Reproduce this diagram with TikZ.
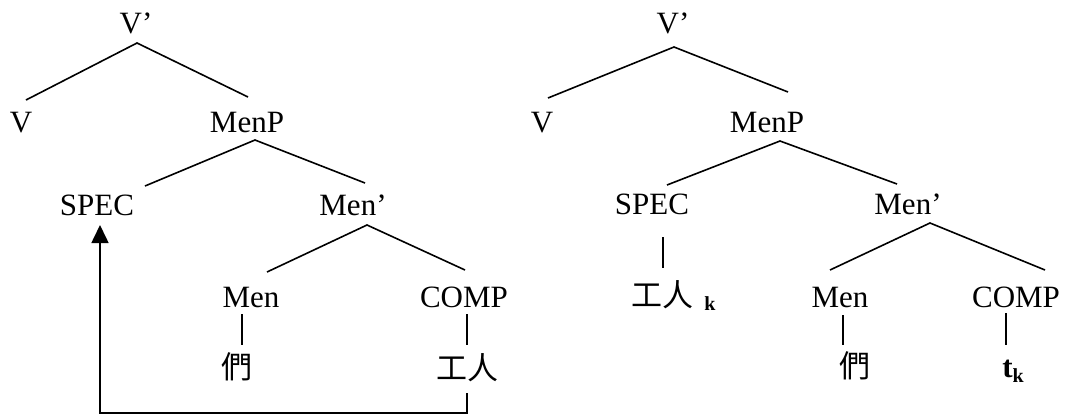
\documentclass[tikz,border=0pt]{standalone}
\usepackage{fontspec}
\setmainfont{Liberation Serif}
\newfontfamily\cjk{Noto Sans CJK TC}
\usetikzlibrary{calc,arrows.meta}
\begin{document}
\begin{tikzpicture}[x=1pt,y=-1pt,
  lab/.style={anchor=base,inner sep=0pt,font=\fontsize{31}{37}\selectfont},
  han/.style={anchor=center,inner sep=0pt,font=\fontsize{31}{37}\selectfont\cjk},
  idx/.style={anchor=base,inner sep=0pt,font=\fontsize{20}{24}\selectfont\bfseries},
  branch/.style={line width=1.6pt},
  move/.style={line width=1.6pt,-{Triangle[length=18pt,width=17pt]}}]
\fill[white] (0,0) rectangle (1065,416);
\useasboundingbox (0,0) rectangle (1065,416);

% ---------- left tree: before movement ----------
\node[lab] (lvp)   at (136,33)  {V’};
\node[lab] (lv)    at (21,132)  {V};
\node[lab] (lmenp) at (247,132) {MenP};
\node[lab] (lspec) at (97,215)  {SPEC};
\node[lab] (lmenb) at (353,215) {Men’};
\node[lab] (lmen)  at (251,307) {Men};
\node[lab] (lcomp) at (464,307) {COMP};
\node[han] (lmenw) at (237,367) {們};
\node[han] (lgr)   at (467,368) {工人};

\draw[branch] ($(lv.base)+(5,-32)$) -- ($(lvp.base)+(1,10)$) -- ($(lmenp.base)+(1,-35)$);
\draw[branch] ($(lspec.base)+(48,-29)$) -- ($(lmenp.base)+(8,8)$) -- ($(lmenb.base)+(12,-32)$);
\draw[branch] ($(lmen.base)+(16,-35)$) -- ($(lmenb.base)+(14,10)$) -- ($(lcomp.base)+(1,-37)$);
\draw[branch] ($(lmen.base)+(-9,7)$) -- ($(lmenw.center)+(5,-22)$);
\draw[branch] ($(lcomp.base)+(3,7)$) -- ($(lgr.center)+(0,-23)$);
\draw[move] ($(lgr.center)+(0,25)$) -- ($(lgr.center)+(0,45)$) -| ($(lspec.base)+(3,10)$);

% ---------- right tree: after movement ----------
\node[lab] (rvp)   at (673,33)  {V’};
\node[lab] (rv)    at (542,132) {V};
\node[lab] (rmenp) at (767,132) {MenP};
\node[lab] (rspec) at (652,214) {SPEC};
\node[lab] (rmenb) at (908,214) {Men’};
\node[lab] (rmen)  at (840,307) {Men};
\node[lab] (rcomp) at (1016,307){COMP};
\node[han] (rgr)   at (662,295) {工人};
\node[idx] (rk)    at (710,310) {k};
\node[han] (rmenw) at (855,366) {們};
\node[lab,font=\fontsize{31}{37}\selectfont\bfseries] (rt) at (1013,377) {t\raisebox{-5pt}{\fontsize{20}{24}\selectfont k}};

\draw[branch] ($(rv.base)+(6,-34)$) -- ($(rvp.base)+(1,14)$) -- ($(rmenp.base)+(21,-40)$);
\draw[branch] ($(rspec.base)+(15,-29)$) -- ($(rmenp.base)+(13,9)$) -- ($(rmenb.base)+(-11,-30)$);
\draw[branch] ($(rmen.base)+(-10,-37)$) -- ($(rmenb.base)+(22,9)$) -- ($(rcomp.base)+(29,-37)$);
\draw[branch] ($(rspec.base)+(11,23)$) -- ($(rgr.center)+(1,-27)$);
\draw[branch] ($(rmen.base)+(3,8)$) -- ($(rmenw.center)+(-12,-21)$);
\draw[branch] ($(rcomp.base)+(-10,6)$) -- ($(rt.base)+(-7,-32)$);
\end{tikzpicture}
\end{document}
